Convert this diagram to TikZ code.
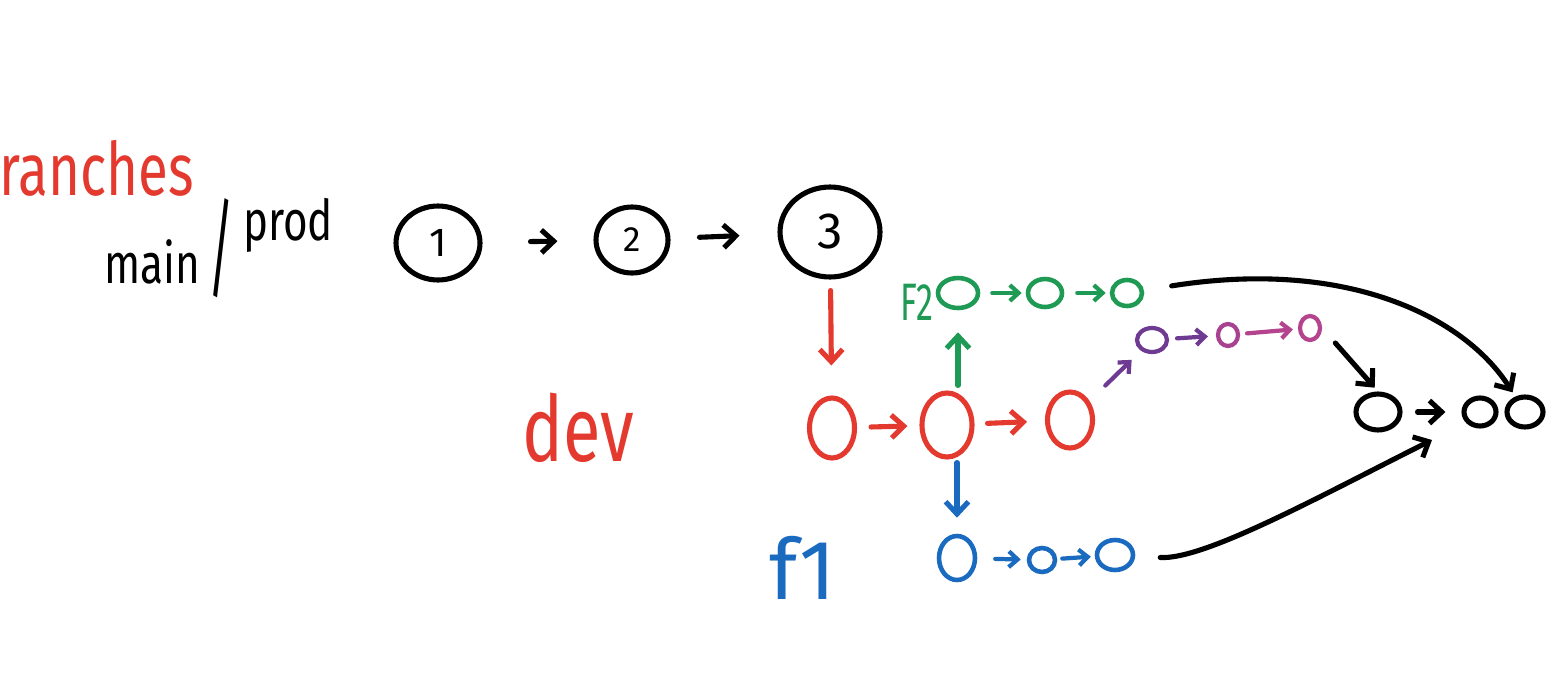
\documentclass[tikz,border=0pt]{standalone}
\usepackage{fontspec}
\setmainfont{Fira Sans}
\usetikzlibrary{arrows.meta,shapes.geometric}
\definecolor{hred}{HTML}{E3392E}
\definecolor{hgreen}{HTML}{1E9A55}
\definecolor{hblue}{HTML}{1A6BBF}
\definecolor{hpurple}{HTML}{6E3A92}
\definecolor{hmagenta}{HTML}{B4448E}
\begin{document}
\begin{tikzpicture}[x=0.02cm,y=-0.02cm,
  commit/.style={ellipse, draw, line width=2.9pt, inner sep=0pt},
  arr/.style={-{Straight Barb[length=7pt,width=13pt]}, line width=2.9pt, line cap=round, line join=round},
  sarr/.style={-{Straight Barb[length=5pt,width=9pt]}, line width=2.4pt, line cap=round, line join=round},
  gap/.style 2 args={shorten <=#1, shorten >=#2},
  lbl/.style={inner sep=0pt, font=\fontsize{#1}{#1}\selectfont}]
\fill[white] (0,0) rectangle (1565,676);
\useasboundingbox (0,0) rectangle (1565,676);

% labels
\node[lbl=42, text=hred, anchor=east, xscale=0.74] (branches) at (194,168) {ranches};
\node[lbl=32, xscale=0.75] (main) at (152,262) {main};
\node[lbl=62, xscale=0.45] (slash) at (221,248) {/};
\node[lbl=32, xscale=0.75] (prod) at (288,225) {prod};
\node[lbl=52, text=hred, xscale=0.75] (dev) at (578,428) {dev};
\node[lbl=30, text=hgreen, xscale=0.65] (F2) at (917,302) {F2};
\node[lbl=48, text=hblue] (f1) at (803,568) {f1};

% main / prod commits
\node[commit, minimum width=1.68cm, minimum height=1.48cm, font=\fontsize{23}{23}\selectfont] (c1) at (438,243) {1};
\node[commit, minimum width=1.44cm, minimum height=1.32cm, font=\fontsize{20}{20}\selectfont] (c2) at (632,240) {2};
\node[commit, minimum width=2.0cm, minimum height=1.8cm, font=\fontsize{29}{29}\selectfont] (c3) at (830,232) {3};
\draw[arr, gap={0.96cm}{0.72cm}] (c1) -- (c2);
\draw[arr, gap={0.58cm}{0.76cm}] (c2) -- (c3);

% dev commits
\begin{scope}[every node/.style={commit, draw=hred}]
\node[minimum width=0.9cm, minimum height=1.2cm] (d1) at (832,428) {};
\node[minimum width=1.0cm, minimum height=1.28cm] (d2) at (947,425) {};
\node[minimum width=0.9cm, minimum height=1.12cm] (d3) at (1070,420) {};
\end{scope}
\draw[arr, hred, gap={0.22cm}{0.6cm}] (c3) -- (d1);
\draw[arr, hred, gap={0.28cm}{0.24cm}] (d1) -- (d2);
\draw[arr, hred, gap={0.26cm}{0.36cm}] (d2) -- (d3);

% F2 commits
\begin{scope}[every node/.style={commit, draw=hgreen, line width=2.6pt}]
\node[minimum width=0.8cm, minimum height=0.6cm] (g1) at (958,293) {};
\node[minimum width=0.68cm, minimum height=0.56cm] (g2) at (1045,293) {};
\node[minimum width=0.6cm, minimum height=0.52cm] (g3) at (1127,293) {};
\end{scope}
\draw[arr, hgreen, gap={0.1cm}{0.44cm}] (g1.south |- d2.north) -- (g1.south);
\draw[sarr, hgreen, gap={0.24cm}{0.08cm}] (g1) -- (g2);
\draw[sarr, hgreen, gap={0.26cm}{0.08cm}] (g2) -- (g3);

% purple commits
\node[commit, draw=hpurple, line width=2.4pt, minimum width=0.6cm, minimum height=0.48cm] (p1) at (1152,340) {};
\node[commit, draw=hmagenta!80!hpurple, line width=2.4pt, minimum width=0.4cm, minimum height=0.44cm] (p2) at (1228,335) {};
\node[commit, draw=hmagenta, line width=2.4pt, minimum width=0.4cm, minimum height=0.48cm] (p3) at (1310,328) {};
\draw[sarr, hpurple, gap={0.44cm}{0.26cm}] (d3) -- (p1);
\draw[sarr, hpurple, gap={0.16cm}{0.16cm}] (p1) -- (p2);
\draw[sarr, hmagenta, gap={0.14cm}{0.1cm}] (p2) -- (p3);

% f1 commits
\begin{scope}[every node/.style={commit, draw=hblue, line width=2.6pt}]
\node[minimum width=0.72cm, minimum height=0.88cm] (f1a) at (957,558) {};
\node[minimum width=0.52cm, minimum height=0.48cm] (f1b) at (1042,560) {};
\node[minimum width=0.72cm, minimum height=0.6cm] (f1c) at (1115,555) {};
\end{scope}
\draw[arr, hblue, gap={0.06cm}{0.32cm}] (f1a.north |- d2.south) -- (f1a.north);
\draw[sarr, hblue, gap={0.36cm}{0.12cm}] (f1a) -- (f1b);
\draw[sarr, hblue, gap={0.1cm}{0.08cm}] (f1b) -- (f1c);

% merged commits
\node[commit, minimum width=0.88cm, minimum height=0.72cm] (b1) at (1378,412) {};
\node[commit, minimum width=0.64cm, minimum height=0.56cm] (b2) at (1480,412) {};
\node[commit, minimum width=0.72cm, minimum height=0.6cm] (b3) at (1525,412) {};
\coordinate (mergeF1) at (1432,440);
\draw[arr, gap={0.3cm}{0.32cm}] (b1) -- (b2);
\draw[arr, gap={0.4cm}{0.1cm}] (p3.east) -- (b1.north);
\draw[arr, gap={0.56cm}{0.1cm}] (g3) .. controls +(220,-35) and +(-60,-95) .. (b3);
\draw[arr, gap={0.5cm}{0cm}] (f1c) .. controls +(90,5) and +(-110,55) .. (mergeF1);
\end{tikzpicture}
\end{document}
